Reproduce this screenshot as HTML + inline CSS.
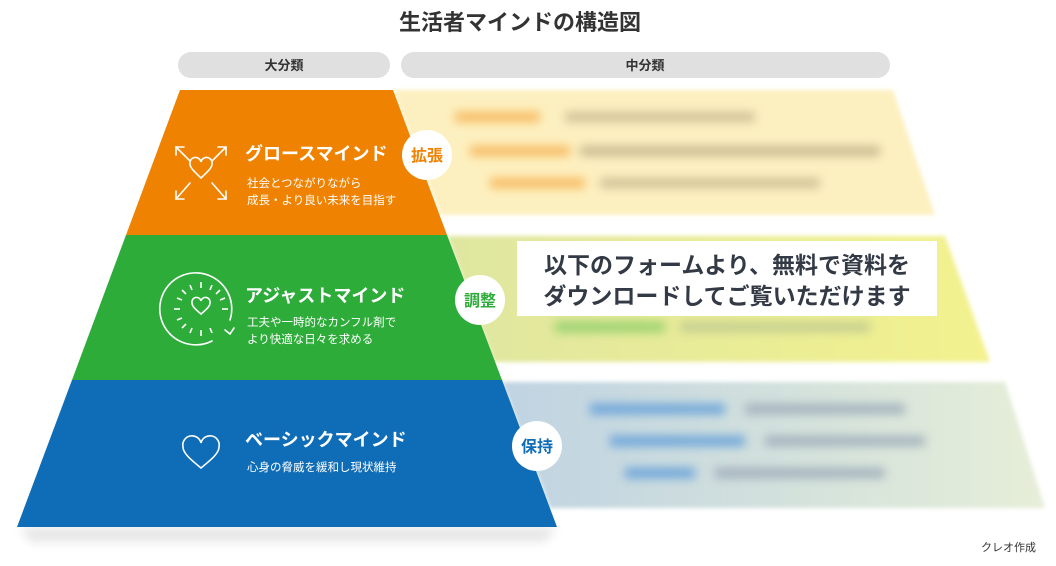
<!DOCTYPE html>
<html><head><meta charset="utf-8"><style>
body{margin:0;background:#fff;width:1056px;height:566px;overflow:hidden;font-family:"Liberation Sans","Noto Sans CJK JP",sans-serif}
svg{display:block}
text{font-family:"Liberation Sans","Noto Sans CJK JP",sans-serif}
</style></head><body>
<svg width="1056" height="566" viewBox="0 0 1056 566">
<defs>
<filter id="b" x="-20%" y="-80%" width="140%" height="260%"><feGaussianBlur stdDeviation="5"/></filter>
<filter id="b2" x="-5%" y="-20%" width="110%" height="140%"><feGaussianBlur stdDeviation="2"/></filter>
<linearGradient id="gg" x1="0" x2="1"><stop offset="0" stop-color="#dfe6a0"/><stop offset="1" stop-color="#f3f28e"/></linearGradient>
<linearGradient id="bg" x1="0" x2="1"><stop offset="0" stop-color="#bfd3e2"/><stop offset="1" stop-color="#e6eed8"/></linearGradient>
</defs>
<text x="520" y="30" text-anchor="middle" font-size="22" font-weight="bold" fill="#333">生活者マインドの構造図</text>
<rect x="178" y="52" width="212" height="26" rx="13" fill="#e0e0e0"/>
<text x="284" y="70" text-anchor="middle" font-size="13" font-weight="bold" fill="#333">大分類</text>
<rect x="401" y="52" width="489" height="26" rx="13" fill="#e0e0e0"/>
<text x="645" y="70" text-anchor="middle" font-size="13" font-weight="bold" fill="#333">中分類</text>

<g filter="url(#b2)">
<polygon points="393,90 893,90 935,215 440,215" fill="#fdf0c0"/>
<polygon points="447,236 945,236 990,362 494,362" fill="url(#gg)"/>
<polygon points="502,382 1005,382 1045,508 550,508" fill="url(#bg)"/>
</g>
<g filter="url(#b)" opacity="0.85">
<rect x="455" y="112" width="85" height="10" fill="#f5b050"/><rect x="565" y="112" width="190" height="10" fill="#c8b890"/>
<rect x="470" y="146" width="100" height="10" fill="#f5b050"/><rect x="580" y="146" width="300" height="10" fill="#c0b088"/>
<rect x="490" y="178" width="95" height="10" fill="#f5b050"/><rect x="600" y="178" width="220" height="10" fill="#c8b890"/>
<rect x="555" y="322" width="110" height="10" fill="#88cc66"/><rect x="680" y="322" width="190" height="10" fill="#bcc890"/>
<rect x="590" y="404" width="135" height="10" fill="#5a9ad8"/><rect x="745" y="404" width="160" height="10" fill="#9aa8b8"/>
<rect x="610" y="436" width="135" height="10" fill="#5a9ad8"/><rect x="765" y="436" width="160" height="10" fill="#9aa8b8"/>
<rect x="625" y="468" width="70" height="10" fill="#5a9ad8"/><rect x="715" y="468" width="170" height="10" fill="#9aa8b8"/>
</g>

<polygon points="20,527 557,527 545,542 30,542" fill="#e6e6e6" filter="url(#b)"/>
<polygon points="180,90 393,90 447,235 126,235" fill="#ef8200"/>
<polygon points="126,235 447,235 502,380 72,380" fill="#2eac3a"/>
<polygon points="72,380 502,380 557,527 17,527" fill="#0f6db8"/>

<g stroke="#fff" stroke-width="1.6" fill="none" stroke-linecap="round">
<path d="M201,180 c-6,-6 -11,-10 -11,-14 a5,5 0 0 1 11,-2 a5,5 0 0 1 11,2 c0,4 -5,8 -11,14z" transform="translate(0,-2)"/>
<line x1="190" y1="161" x2="176" y2="147"/><polyline points="176,155 176,147 184,147"/>
<line x1="212" y1="161" x2="226" y2="147"/><polyline points="218,147 226,147 226,155"/>
<line x1="190" y1="183" x2="176" y2="199"/><polyline points="176,191 176,199 184,199"/>
<line x1="212" y1="183" x2="226" y2="199"/><polyline points="218,199 226,199 226,191"/>
<path d="M201,314 c-6,-5 -9,-8 -9,-11 a4.5,4.5 0 0 1 9,-2 a4.5,4.5 0 0 1 9,2 c0,3 -3,6 -9,11z"/>
<path d="M212,341 A36,36 0 1 1 230,320"/>
<polyline points="225,330 230,334 234,328"/>
<path d="M201,468 c-11,-9 -18,-15 -18,-21 a9,9 0 0 1 18,-4 a9,9 0 0 1 18,4 c0,6 -7,12 -18,21z"/>
</g>
<g stroke="#fff" stroke-width="1.6">
<line x1="201" y1="282" x2="201" y2="288"/><line x1="201" y1="330" x2="201" y2="336"/>
<line x1="174" y1="309" x2="180" y2="309"/><line x1="222" y1="309" x2="228" y2="309"/>
<line x1="182" y1="290" x2="186" y2="294"/><line x1="220" y1="290" x2="216" y2="294"/>
<line x1="182" y1="328" x2="186" y2="324"/><line x1="190" y1="285" x2="192" y2="290"/>
<line x1="212" y1="285" x2="210" y2="290"/><line x1="177" y1="298" x2="182" y2="300"/>
<line x1="225" y1="298" x2="220" y2="300"/><line x1="177" y1="320" x2="182" y2="318"/>
<line x1="190" y1="333" x2="192" y2="328"/><line x1="212" y1="333" x2="210" y2="328"/>
</g>

<g fill="#fff">
<text x="245" y="160" font-size="18" font-weight="bold">グロースマインド</text>
<text x="247" y="187" font-size="11.5">社会とつながりながら</text>
<text x="247" y="204" font-size="11.5">成長・より良い未来を目指す</text>
<text x="245" y="302" font-size="18" font-weight="bold">アジャストマインド</text>
<text x="247" y="326" font-size="11.5">工夫や一時的なカンフル剤で</text>
<text x="247" y="343" font-size="11.5">より快適な日々を求める</text>
<text x="245" y="446" font-size="18" font-weight="bold">ベーシックマインド</text>
<text x="247" y="471" font-size="11.5">心身の脅威を緩和し現状維持</text>
</g>

<circle cx="427" cy="155" r="25" fill="#fff"/>
<text x="427" y="161" text-anchor="middle" font-size="16" font-weight="bold" fill="#ef8200">拡張</text>
<circle cx="480" cy="300" r="25" fill="#fff"/>
<text x="480" y="306" text-anchor="middle" font-size="16" font-weight="bold" fill="#2eac3a">調整</text>
<circle cx="537" cy="446" r="25" fill="#fff"/>
<text x="537" y="452" text-anchor="middle" font-size="16" font-weight="bold" fill="#0f6db8">保持</text>

<rect x="517" y="241" width="420" height="75" fill="#fff"/>
<text x="727" y="273" text-anchor="middle" font-size="23" font-weight="bold" fill="#333a45">以下のフォームより、無料で資料を</text>
<text x="727" y="304" text-anchor="middle" font-size="23" font-weight="bold" fill="#333a45">ダウンロードしてご覧いただけます</text>

<text x="1036" y="551" text-anchor="end" font-size="11" fill="#333">クレオ作成</text>
</svg>
</body></html>
